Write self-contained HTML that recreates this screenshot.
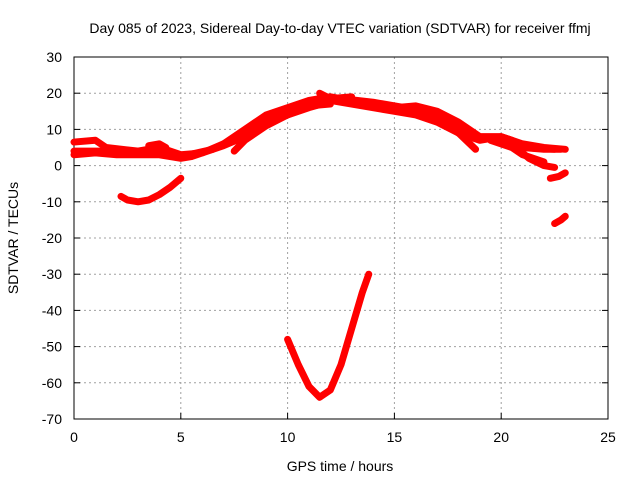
<!DOCTYPE html>
<html><head><meta charset="utf-8"><style>
body{margin:0;background:#fff;font-family:"Liberation Sans",sans-serif}
svg text{font-family:"Liberation Sans",sans-serif;font-size:14px;fill:#000}
</style></head><body>
<svg id="c" width="640" height="480"></svg>
<script>
const xTicks=[0,5,10,15,20,25];
const yTicks=[30,20,10,0,-10,-20,-30,-40,-50,-60,-70];
const seriesA=[[0,3],[1,3.5],[2,3],[3,3],[4,3],[4.5,2.5],[5,2],[5.5,2.5],[6,3.5],[7,5.5],[8,8],[9,12],[10,15],[11,17],[12,18],[13,17],[14,16],[15,15],[16,14],[17,12],[18,9],[19,7],[20,8],[21,6],[22,5],[23,4.5]];
const seriesB=[[0,6.5],[1,7],[1.5,5],[3,4],[4,5],[5,3],[6,3.5],[7,6],[8,10],[9,14],[10,16],[11,18],[12,19],[13,18],[14,17],[15,16],[16,16.5],[17,15],[18,12],[19,8],[20,8],[20.5,7],[21,5],[22,4.5],[22.8,4.5]];
const seriesC=[[7.5,4],[8,7],[9,11],[10,14],[11,16.5],[12,17]];
const seriesD=[[16,15],[17,13],[18,9],[18.8,4.5]];
const seriesE=[[19.5,7],[20.5,5],[21,3],[22,1]];
const seriesF=[[20.5,6],[21.3,2],[22,0],[22.5,-0.5]];
const seriesG=[[2.2,-8.5],[2.5,-9.5],[3,-10],[3.5,-9.5],[4,-8],[4.5,-6],[5,-3.5]];
const seriesH=[[22.3,-3.5],[22.7,-3],[23,-2]];
const seriesI=[[22.5,-16],[22.8,-15],[23,-14]];
const seriesJ=[[10,-48],[10.5,-55],[11,-61],[11.5,-64],[12,-62],[12.5,-55],[13,-45],[13.5,-35],[13.8,-30]];
const seriesK=[[0,4],[2,4],[3.5,3.5],[5,2.5],[6.5,4.5],[8,9],[9.5,13],[11,16],[12.5,18.5],[14,17.5],[15.5,16],[17,14],[18,11],[19,7.5],[20,7.5],[21,5],[22.5,4.5]];
const seriesL=[[3.5,5.5],[4,6],[4.3,5]];
const seriesM=[[11.5,20],[12,18.5],[13,19]];
const allSeries=[seriesA,seriesB,seriesC,seriesD,seriesE,seriesF,seriesG,seriesH,seriesI,seriesJ,seriesK,seriesL,seriesM];
const L=74,R=608,T=57,B=419;
const X=v=>L+(v-0)/25*(R-L);
const Y=v=>T+(30-v)/100*(B-T);
const svg=document.getElementById('c');
const NS='http://www.w3.org/2000/svg';
function mk(t,a){const e=document.createElementNS(NS,t);for(const k in a)e.setAttribute(k,a[k]);svg.appendChild(e);return e;}
xTicks.forEach(t=>{
 if(t>0&&t<25){const g=mk('line',{x1:X(t),x2:X(t),y1:T,y2:B,stroke:'#a0a0a0','stroke-dasharray':'2,3'});
 
 }
 const tk=mk('line',{x1:X(t),x2:X(t),y1:B,y2:B-6,stroke:'#000'});
 
 
 const tx=mk('text',{x:X(t),y:B+23,'text-anchor':'middle'});tx.textContent=t;
 
 
});
yTicks.forEach(t=>{
 if(t<30&&t>-70){const g=mk('line',{x1:L,x2:R,y1:Y(t),y2:Y(t),stroke:'#a0a0a0','stroke-dasharray':'2,3'});
 
 }
 const tk=mk('line',{x1:L,x2:L+6,y1:Y(t),y2:Y(t),stroke:'#000'});
 
 
 const tk2=mk('line',{x1:R,x2:R-6,y1:Y(t),y2:Y(t),stroke:'#000'});
 
 
 const tx=mk('text',{x:L-12,y:Y(t)+5,'text-anchor':'end'});tx.textContent=t;
 
 
});
const fr=mk('rect',{x:L,y:T,width:R-L,height:B-T,fill:'none',stroke:'#000'});


allSeries.forEach((s,i)=>{
 const p=mk('polyline',{points:s.map(d=>X(d[0])+','+Y(d[1])).join(' '),fill:'none',stroke:'#ff0000','stroke-width':7,'stroke-linejoin':'round','stroke-linecap':'round'});
 
 
});
const ti=mk('text',{x:340,y:33,'text-anchor':'middle'});ti.textContent='Day 085 of 2023, Sidereal Day-to-day VTEC variation (SDTVAR) for receiver ffmj';


const xl=mk('text',{x:340,y:471,'text-anchor':'middle'});xl.textContent='GPS time / hours';


const yl=mk('text',{x:0,y:0,'text-anchor':'middle',transform:'translate(18,238) rotate(-90)'});yl.textContent='SDTVAR / TECUs';


</script>
</body></html>
